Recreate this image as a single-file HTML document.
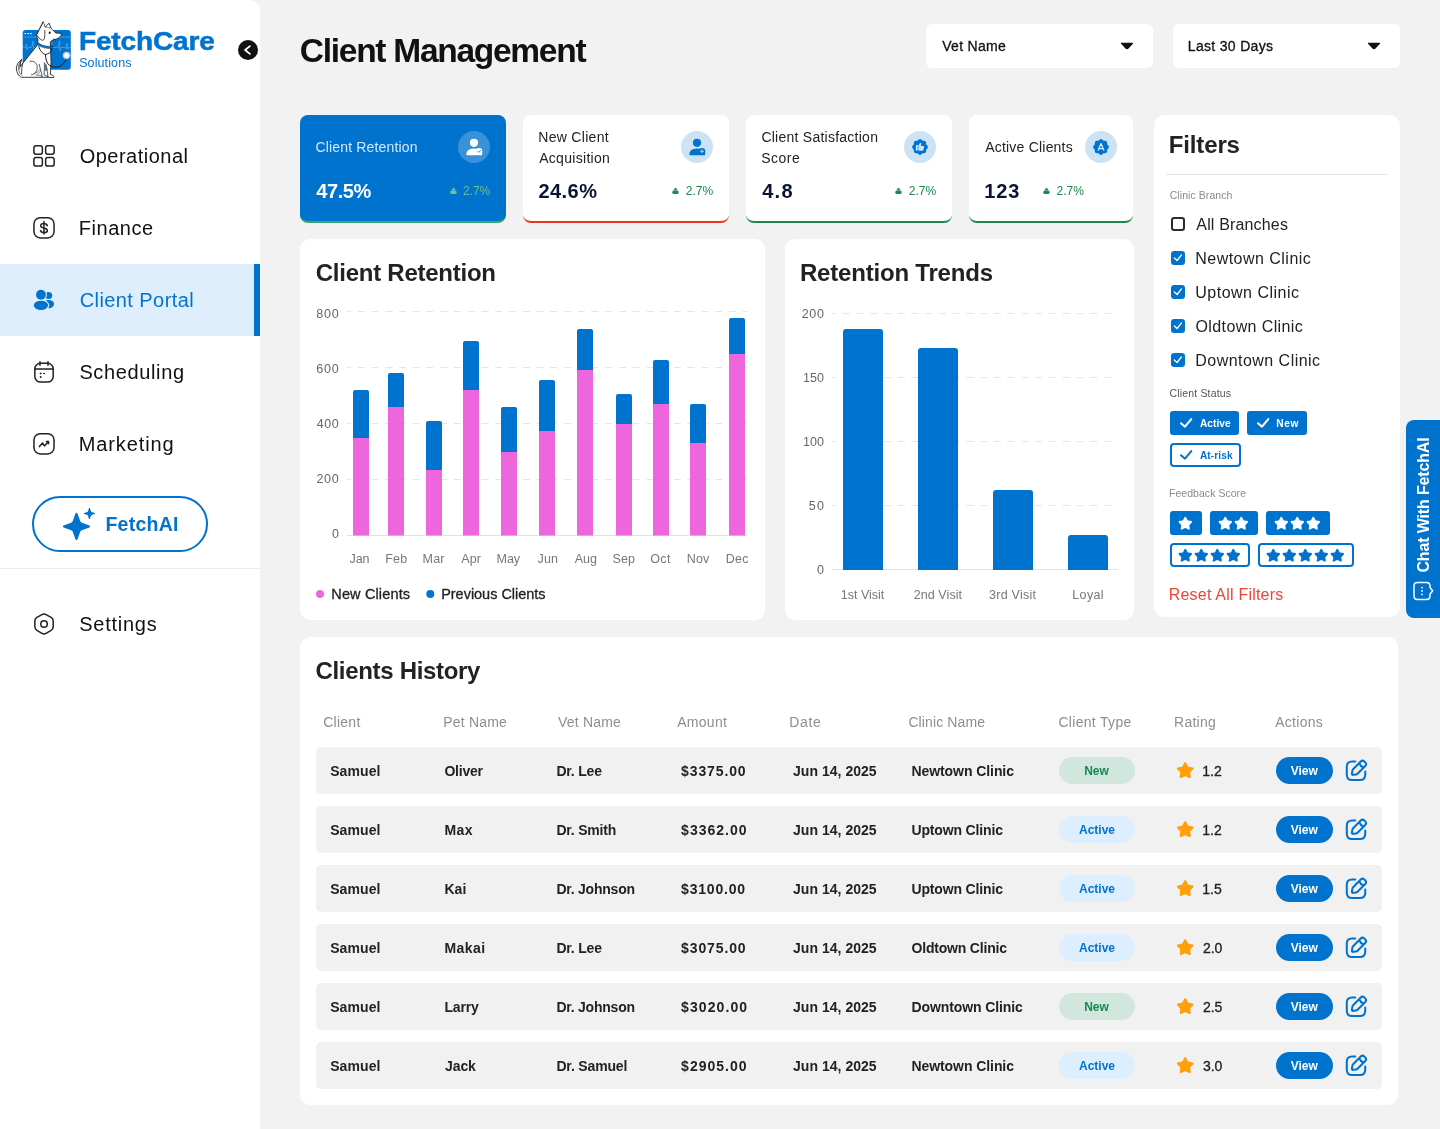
<!DOCTYPE html>
<html><head><meta charset="utf-8"><title>Client Management</title>
<style>
html,body{margin:0;padding:0;overflow:hidden}
body{width:1440px;height:1129px;overflow:hidden;background:#F2F2F2;position:relative;font-family:"Liberation Sans",sans-serif}
#app{position:absolute;left:0;top:0;width:1440px;height:1129px;overflow:hidden;will-change:transform}
.t{position:absolute;white-space:pre;line-height:1;font-family:"Liberation Sans",sans-serif}
</style></head><body><div id="app">
<div style="position:absolute;left:0px;top:0px;width:260px;height:1129px;background:#fff;border-radius:0px;border-top-right-radius:11px;"></div>
<div style="position:absolute;left:0px;top:264px;width:260px;height:72px;background:#DFEEFC;border-radius:0px;"></div>
<div style="position:absolute;left:254px;top:264px;width:6px;height:72px;background:#0073CF;border-radius:0px;"></div>
<div style="position:absolute;left:0px;top:568px;width:260px;height:1px;background:#EEEEEE;border-radius:0px;"></div>
<div style="position:absolute;left:238px;top:40px;width:20px;height:20px;border-radius:50%;background:#111"></div>
<svg style="position:absolute;left:238px;top:40px" width="20" height="20" viewBox="0 0 20 20"><path d="M11.9 6.1 L7.1 10 L11.9 13.9" fill="none" stroke="#fff" stroke-width="1.8" stroke-linecap="round" stroke-linejoin="round"/></svg>
<div style="position:absolute;left:32px;top:496px;width:176px;height:56px;box-sizing:border-box;border:2px solid #0073CF;border-radius:28px;background:#fff"></div>
<div style="position:absolute;left:926px;top:24px;width:227px;height:44px;background:#fff;border-radius:6px;"></div>
<div style="position:absolute;left:1173px;top:24px;width:227px;height:44px;background:#fff;border-radius:6px;"></div>
<svg style="position:absolute;left:1120px;top:42.4px" width="14" height="8" viewBox="0 0 14 8"><path d="M1.5 1.3 H12.5 L8.1 6.0 Q7 7.2 5.9 6.0 Z" fill="#111" stroke="#111" stroke-width="1.2" stroke-linejoin="round"/></svg>
<svg style="position:absolute;left:1367px;top:42.4px" width="14" height="8" viewBox="0 0 14 8"><path d="M1.5 1.3 H12.5 L8.1 6.0 Q7 7.2 5.9 6.0 Z" fill="#111" stroke="#111" stroke-width="1.2" stroke-linejoin="round"/></svg>
<div style="position:absolute;left:300px;top:115px;width:206px;height:108px;box-sizing:border-box;background:#0073CF;border-radius:8px;border-bottom:2px solid #3DA56F"></div>
<svg style="position:absolute;left:449.6px;top:187px" width="8" height="8" viewBox="0 0 8 8"><path d="M3.5 0.8 L5.2 3.1 H1.8 Z" fill="#7CC08F" stroke="#7CC08F" stroke-width="0.5" stroke-linejoin="round"/><rect x="0.3" y="3.5" width="6.3" height="3.4" rx="1.5" fill="#7CC08F"/></svg>
<div style="position:absolute;left:458px;top:131px;width:32px;height:32px;border-radius:50%;background:rgba(255,255,255,0.22)"></div>
<div style="position:absolute;left:523px;top:115px;width:206px;height:108px;box-sizing:border-box;background:#fff;border-radius:8px;border-bottom:2px solid #F0321F"></div>
<svg style="position:absolute;left:672.3px;top:187px" width="8" height="8" viewBox="0 0 8 8"><path d="M3.5 0.8 L5.2 3.1 H1.8 Z" fill="#1A8A4C" stroke="#1A8A4C" stroke-width="0.5" stroke-linejoin="round"/><rect x="0.3" y="3.5" width="6.3" height="3.4" rx="1.5" fill="#1A8A4C"/></svg>
<div style="position:absolute;left:681px;top:131px;width:32px;height:32px;border-radius:50%;background:#CCE3F6"></div>
<div style="position:absolute;left:746px;top:115px;width:206px;height:108px;box-sizing:border-box;background:#fff;border-radius:8px;border-bottom:2px solid #1A8A4C"></div>
<svg style="position:absolute;left:895.3px;top:187px" width="8" height="8" viewBox="0 0 8 8"><path d="M3.5 0.8 L5.2 3.1 H1.8 Z" fill="#1A8A4C" stroke="#1A8A4C" stroke-width="0.5" stroke-linejoin="round"/><rect x="0.3" y="3.5" width="6.3" height="3.4" rx="1.5" fill="#1A8A4C"/></svg>
<div style="position:absolute;left:904px;top:131px;width:32px;height:32px;border-radius:50%;background:#CCE3F6"></div>
<div style="position:absolute;left:969px;top:115px;width:164px;height:108px;box-sizing:border-box;background:#fff;border-radius:8px;border-bottom:2px solid #1A8A4C"></div>
<svg style="position:absolute;left:1043px;top:187px" width="8" height="8" viewBox="0 0 8 8"><path d="M3.5 0.8 L5.2 3.1 H1.8 Z" fill="#1A8A4C" stroke="#1A8A4C" stroke-width="0.5" stroke-linejoin="round"/><rect x="0.3" y="3.5" width="6.3" height="3.4" rx="1.5" fill="#1A8A4C"/></svg>
<div style="position:absolute;left:1085px;top:131px;width:32px;height:32px;border-radius:50%;background:#CCE3F6"></div>
<svg style="position:absolute;left:464px;top:136.9px" width="20" height="20" viewBox="0 0 20 20"><circle cx="10" cy="5.8" r="4.1" fill="#fff"/><path d="M2.3 17.4 Q2.5 11.4 9.8 11.4 Q12.2 11.4 13.8 12 L18.2 15 V17.6 Q18.2 18.2 17.6 18.2 H3 Q2.3 18.2 2.3 17.4Z" fill="#fff"/><circle cx="15" cy="14.3" r="3.3" fill="#fff"/><path d="M13.6 14.3 L14.7 15.4 L16.5 13.3" fill="none" stroke="#4A9BDE" stroke-width="1" stroke-linecap="round" stroke-linejoin="round"/></svg>
<svg style="position:absolute;left:687px;top:136.9px" width="20" height="20" viewBox="0 0 20 20"><circle cx="10" cy="5.8" r="4.1" fill="#0073CF"/><path d="M2.3 17.4 Q2.5 11.4 9.8 11.4 Q12.2 11.4 13.8 12 L18.2 15 V17.6 Q18.2 18.2 17.6 18.2 H3 Q2.3 18.2 2.3 17.4Z" fill="#0073CF"/><circle cx="15" cy="14.3" r="3.3" fill="#0073CF"/><path d="M15 12.9 V15.7 M13.6 14.3 H16.4" fill="none" stroke="#B9D9F3" stroke-width="1" stroke-linecap="round"/></svg>
<svg style="position:absolute;left:910px;top:136.9px" width="20" height="20" viewBox="0 0 20 20"><rect x="3.85" y="3.85" width="12.3" height="12.3" rx="2" fill="#0073CF"/><rect x="3.85" y="3.85" width="12.3" height="12.3" rx="2" fill="#0073CF" transform="rotate(45 10 10)"/><rect x="5.9" y="7.9" width="1.9" height="5.7" rx="0.3" fill="#CCE3F6"/><path d="M8.4 8.3 L10.1 6.1 Q10.5 5.6 11 6 Q11.4 6.4 11.2 7.2 L11 8.9 H13.4 Q14.3 8.9 14.1 9.9 L13.4 13 Q13.2 13.8 12.3 13.8 H9.4 L8.4 13.2 Z" fill="#CCE3F6"/></svg>
<svg style="position:absolute;left:1091px;top:136.9px" width="20" height="20" viewBox="0 0 20 20"><rect x="3.85" y="3.85" width="12.3" height="12.3" rx="2" fill="#0073CF"/><rect x="3.85" y="3.85" width="12.3" height="12.3" rx="2" fill="#0073CF" transform="rotate(45 10 10)"/><path d="M7.15 13.2 L10 6.5 L12.85 13.2 M8.1 11.7 H11.9" fill="none" stroke="#E3F0FA" stroke-width="1.2" stroke-linecap="round" stroke-linejoin="round"/></svg>
<div style="position:absolute;left:300px;top:239px;width:465px;height:381px;background:#fff;border-radius:10px;"></div>
<div style="position:absolute;left:785px;top:239px;width:349px;height:381px;background:#fff;border-radius:10px;"></div>
<svg style="position:absolute;left:0;top:0" width="1440" height="1129" viewBox="0 0 1440 1129"><line x1="347" x2="747" y1="311.5" y2="311.5" stroke="#E6E6E6" stroke-width="1" stroke-dasharray="7 6.75" stroke-dashoffset="3"/><line x1="347" x2="747" y1="367.5" y2="367.5" stroke="#E6E6E6" stroke-width="1" stroke-dasharray="7 6.75" stroke-dashoffset="3"/><line x1="347" x2="747" y1="423.5" y2="423.5" stroke="#E6E6E6" stroke-width="1" stroke-dasharray="7 6.75" stroke-dashoffset="3"/><line x1="347" x2="747" y1="479.5" y2="479.5" stroke="#E6E6E6" stroke-width="1" stroke-dasharray="7 6.75" stroke-dashoffset="3"/><line x1="347" x2="747" y1="535.5" y2="535.5" stroke="#E2E2E2" stroke-width="1"/><path d="M353 439 V392 Q353 390 355 390 H367 Q369 390 369 392 V439Z" fill="#0073CF"/><rect x="353" y="438" width="16" height="97.5" fill="#EE66DD"/><path d="M388 408 V375 Q388 373 390 373 H402 Q404 373 404 375 V408Z" fill="#0073CF"/><rect x="388" y="407" width="16" height="128.5" fill="#EE66DD"/><path d="M426 471 V423 Q426 421 428 421 H440 Q442 421 442 423 V471Z" fill="#0073CF"/><rect x="426" y="470" width="16" height="65.5" fill="#EE66DD"/><path d="M463 391 V343 Q463 341 465 341 H477 Q479 341 479 343 V391Z" fill="#0073CF"/><rect x="463" y="390" width="16" height="145.5" fill="#EE66DD"/><path d="M501 453 V409 Q501 407 503 407 H515 Q517 407 517 409 V453Z" fill="#0073CF"/><rect x="501" y="452" width="16" height="83.5" fill="#EE66DD"/><path d="M539 432 V382 Q539 380 541 380 H553 Q555 380 555 382 V432Z" fill="#0073CF"/><rect x="539" y="431" width="16" height="104.5" fill="#EE66DD"/><path d="M577 371 V331 Q577 329 579 329 H591 Q593 329 593 331 V371Z" fill="#0073CF"/><rect x="577" y="370" width="16" height="165.5" fill="#EE66DD"/><path d="M616 425 V396 Q616 394 618 394 H630 Q632 394 632 396 V425Z" fill="#0073CF"/><rect x="616" y="424" width="16" height="111.5" fill="#EE66DD"/><path d="M653 405 V362 Q653 360 655 360 H667 Q669 360 669 362 V405Z" fill="#0073CF"/><rect x="653" y="404" width="16" height="131.5" fill="#EE66DD"/><path d="M690 444 V406 Q690 404 692 404 H704 Q706 404 706 406 V444Z" fill="#0073CF"/><rect x="690" y="443" width="16" height="92.5" fill="#EE66DD"/><path d="M729 355 V320 Q729 318 731 318 H743 Q745 318 745 320 V355Z" fill="#0073CF"/><rect x="729" y="354" width="16" height="181.5" fill="#EE66DD"/><line x1="832" x2="1118" y1="313.5" y2="313.5" stroke="#E6E6E6" stroke-width="1" stroke-dasharray="7 6.75" stroke-dashoffset="3"/><line x1="832" x2="1118" y1="377.5" y2="377.5" stroke="#E6E6E6" stroke-width="1" stroke-dasharray="7 6.75" stroke-dashoffset="3"/><line x1="832" x2="1118" y1="441.5" y2="441.5" stroke="#E6E6E6" stroke-width="1" stroke-dasharray="7 6.75" stroke-dashoffset="3"/><line x1="832" x2="1118" y1="505.5" y2="505.5" stroke="#E6E6E6" stroke-width="1" stroke-dasharray="7 6.75" stroke-dashoffset="3"/><line x1="832" x2="1118" y1="569.5" y2="569.5" stroke="#E2E2E2" stroke-width="1"/><path d="M843 570 V332 Q843 329 846 329 H880 Q883 329 883 332 V570Z" fill="#0073CF"/><path d="M918 570 V351 Q918 348 921 348 H955 Q958 348 958 351 V570Z" fill="#0073CF"/><path d="M993 570 V493 Q993 490 996 490 H1030 Q1033 490 1033 493 V570Z" fill="#0073CF"/><path d="M1068 570 V538 Q1068 535 1071 535 H1105 Q1108 535 1108 538 V570Z" fill="#0073CF"/><circle cx="320" cy="594" r="4" fill="#EE66DD"/><circle cx="430.3" cy="594" r="4" fill="#0073CF"/></svg>
<div style="position:absolute;left:1154px;top:115px;width:246px;height:502px;background:#fff;border-radius:10px;"></div>
<div style="position:absolute;left:1166px;top:174px;width:222px;height:1px;background:#E6E6E6;border-radius:0px;"></div>
<div style="position:absolute;left:1171.3px;top:217.05px;width:13.6px;height:13.6px;box-sizing:border-box;border:2px solid #2b2b2b;border-radius:3.2px"></div>
<div style="position:absolute;left:1171.3px;top:251.05px;width:13.6px;height:13.6px;border-radius:3.2px;background:#0073CF"></div>
<svg style="position:absolute;left:1171.3px;top:251.05px" width="13.6" height="13.6" viewBox="0 0 13.6 13.6"><path d="M3.3 7.0 L6.1 9.5 L10.5 3.9" fill="none" stroke="#fff" stroke-width="1.3" stroke-linecap="round" stroke-linejoin="round"/></svg>
<div style="position:absolute;left:1171.3px;top:285.05px;width:13.6px;height:13.6px;border-radius:3.2px;background:#0073CF"></div>
<svg style="position:absolute;left:1171.3px;top:285.05px" width="13.6" height="13.6" viewBox="0 0 13.6 13.6"><path d="M3.3 7.0 L6.1 9.5 L10.5 3.9" fill="none" stroke="#fff" stroke-width="1.3" stroke-linecap="round" stroke-linejoin="round"/></svg>
<div style="position:absolute;left:1171.3px;top:319.05px;width:13.6px;height:13.6px;border-radius:3.2px;background:#0073CF"></div>
<svg style="position:absolute;left:1171.3px;top:319.05px" width="13.6" height="13.6" viewBox="0 0 13.6 13.6"><path d="M3.3 7.0 L6.1 9.5 L10.5 3.9" fill="none" stroke="#fff" stroke-width="1.3" stroke-linecap="round" stroke-linejoin="round"/></svg>
<div style="position:absolute;left:1171.3px;top:353.05px;width:13.6px;height:13.6px;border-radius:3.2px;background:#0073CF"></div>
<svg style="position:absolute;left:1171.3px;top:353.05px" width="13.6" height="13.6" viewBox="0 0 13.6 13.6"><path d="M3.3 7.0 L6.1 9.5 L10.5 3.9" fill="none" stroke="#fff" stroke-width="1.3" stroke-linecap="round" stroke-linejoin="round"/></svg>
<div style="position:absolute;left:1170px;top:411px;width:69px;height:24px;background:#0073CF;border-radius:3px;"></div>
<svg style="position:absolute;left:1179px;top:417px" width="14" height="12" viewBox="0 0 14 12"><path d="M2 6.2 L6 9.7 L12.3 2.1" fill="none" stroke="#fff" stroke-width="2" stroke-linecap="round" stroke-linejoin="round"/></svg>
<div style="position:absolute;left:1247px;top:411px;width:60px;height:24px;background:#0073CF;border-radius:3px;"></div>
<svg style="position:absolute;left:1256.3px;top:417px" width="14" height="12" viewBox="0 0 14 12"><path d="M2 6.2 L6 9.7 L12.3 2.1" fill="none" stroke="#fff" stroke-width="2" stroke-linecap="round" stroke-linejoin="round"/></svg>
<div style="position:absolute;left:1170px;top:443px;width:71px;height:24px;box-sizing:border-box;border:2px solid #0073CF;border-radius:4px;background:#fff"></div>
<svg style="position:absolute;left:1179px;top:449.3px" width="14" height="12" viewBox="0 0 14 12"><path d="M2 6.2 L6 9.7 L12.3 2.1" fill="none" stroke="#0073CF" stroke-width="2" stroke-linecap="round" stroke-linejoin="round"/></svg>
<div style="position:absolute;left:1170px;top:511px;width:32px;height:24px;background:#0073CF;border-radius:3px;"></div>
<svg style="position:absolute;left:1177.2px;top:514.5px" width="16.6" height="16.6" viewBox="0 0 20 20"><path d="M10.00 3.10 L12.35 7.36 L17.13 8.28 L13.80 11.84 L14.41 16.67 L10.00 14.60 L5.59 16.67 L6.20 11.84 L2.87 8.28 L7.65 7.36Z" fill="#fff" stroke="#fff" stroke-width="2" stroke-linejoin="round"/></svg>
<div style="position:absolute;left:1210px;top:511px;width:48px;height:24px;background:#0073CF;border-radius:3px;"></div>
<svg style="position:absolute;left:1217.2px;top:514.5px" width="16.6" height="16.6" viewBox="0 0 20 20"><path d="M10.00 3.10 L12.35 7.36 L17.13 8.28 L13.80 11.84 L14.41 16.67 L10.00 14.60 L5.59 16.67 L6.20 11.84 L2.87 8.28 L7.65 7.36Z" fill="#fff" stroke="#fff" stroke-width="2" stroke-linejoin="round"/></svg>
<svg style="position:absolute;left:1233.2px;top:514.5px" width="16.6" height="16.6" viewBox="0 0 20 20"><path d="M10.00 3.10 L12.35 7.36 L17.13 8.28 L13.80 11.84 L14.41 16.67 L10.00 14.60 L5.59 16.67 L6.20 11.84 L2.87 8.28 L7.65 7.36Z" fill="#fff" stroke="#fff" stroke-width="2" stroke-linejoin="round"/></svg>
<div style="position:absolute;left:1266px;top:511px;width:64px;height:24px;background:#0073CF;border-radius:3px;"></div>
<svg style="position:absolute;left:1273.2px;top:514.5px" width="16.6" height="16.6" viewBox="0 0 20 20"><path d="M10.00 3.10 L12.35 7.36 L17.13 8.28 L13.80 11.84 L14.41 16.67 L10.00 14.60 L5.59 16.67 L6.20 11.84 L2.87 8.28 L7.65 7.36Z" fill="#fff" stroke="#fff" stroke-width="2" stroke-linejoin="round"/></svg>
<svg style="position:absolute;left:1289.2px;top:514.5px" width="16.6" height="16.6" viewBox="0 0 20 20"><path d="M10.00 3.10 L12.35 7.36 L17.13 8.28 L13.80 11.84 L14.41 16.67 L10.00 14.60 L5.59 16.67 L6.20 11.84 L2.87 8.28 L7.65 7.36Z" fill="#fff" stroke="#fff" stroke-width="2" stroke-linejoin="round"/></svg>
<svg style="position:absolute;left:1305.2px;top:514.5px" width="16.6" height="16.6" viewBox="0 0 20 20"><path d="M10.00 3.10 L12.35 7.36 L17.13 8.28 L13.80 11.84 L14.41 16.67 L10.00 14.60 L5.59 16.67 L6.20 11.84 L2.87 8.28 L7.65 7.36Z" fill="#fff" stroke="#fff" stroke-width="2" stroke-linejoin="round"/></svg>
<div style="position:absolute;left:1170px;top:543px;width:80px;height:24px;box-sizing:border-box;border:2px solid #0073CF;border-radius:4px;background:#fff"></div>
<svg style="position:absolute;left:1177.2px;top:546.5px" width="16.6" height="16.6" viewBox="0 0 20 20"><path d="M10.00 3.10 L12.35 7.36 L17.13 8.28 L13.80 11.84 L14.41 16.67 L10.00 14.60 L5.59 16.67 L6.20 11.84 L2.87 8.28 L7.65 7.36Z" fill="#0073CF" stroke="#0073CF" stroke-width="2" stroke-linejoin="round"/></svg>
<svg style="position:absolute;left:1193.2px;top:546.5px" width="16.6" height="16.6" viewBox="0 0 20 20"><path d="M10.00 3.10 L12.35 7.36 L17.13 8.28 L13.80 11.84 L14.41 16.67 L10.00 14.60 L5.59 16.67 L6.20 11.84 L2.87 8.28 L7.65 7.36Z" fill="#0073CF" stroke="#0073CF" stroke-width="2" stroke-linejoin="round"/></svg>
<svg style="position:absolute;left:1209.2px;top:546.5px" width="16.6" height="16.6" viewBox="0 0 20 20"><path d="M10.00 3.10 L12.35 7.36 L17.13 8.28 L13.80 11.84 L14.41 16.67 L10.00 14.60 L5.59 16.67 L6.20 11.84 L2.87 8.28 L7.65 7.36Z" fill="#0073CF" stroke="#0073CF" stroke-width="2" stroke-linejoin="round"/></svg>
<svg style="position:absolute;left:1225.2px;top:546.5px" width="16.6" height="16.6" viewBox="0 0 20 20"><path d="M10.00 3.10 L12.35 7.36 L17.13 8.28 L13.80 11.84 L14.41 16.67 L10.00 14.60 L5.59 16.67 L6.20 11.84 L2.87 8.28 L7.65 7.36Z" fill="#0073CF" stroke="#0073CF" stroke-width="2" stroke-linejoin="round"/></svg>
<div style="position:absolute;left:1258px;top:543px;width:96px;height:24px;box-sizing:border-box;border:2px solid #0073CF;border-radius:4px;background:#fff"></div>
<svg style="position:absolute;left:1265.2px;top:546.5px" width="16.6" height="16.6" viewBox="0 0 20 20"><path d="M10.00 3.10 L12.35 7.36 L17.13 8.28 L13.80 11.84 L14.41 16.67 L10.00 14.60 L5.59 16.67 L6.20 11.84 L2.87 8.28 L7.65 7.36Z" fill="#0073CF" stroke="#0073CF" stroke-width="2" stroke-linejoin="round"/></svg>
<svg style="position:absolute;left:1281.2px;top:546.5px" width="16.6" height="16.6" viewBox="0 0 20 20"><path d="M10.00 3.10 L12.35 7.36 L17.13 8.28 L13.80 11.84 L14.41 16.67 L10.00 14.60 L5.59 16.67 L6.20 11.84 L2.87 8.28 L7.65 7.36Z" fill="#0073CF" stroke="#0073CF" stroke-width="2" stroke-linejoin="round"/></svg>
<svg style="position:absolute;left:1297.2px;top:546.5px" width="16.6" height="16.6" viewBox="0 0 20 20"><path d="M10.00 3.10 L12.35 7.36 L17.13 8.28 L13.80 11.84 L14.41 16.67 L10.00 14.60 L5.59 16.67 L6.20 11.84 L2.87 8.28 L7.65 7.36Z" fill="#0073CF" stroke="#0073CF" stroke-width="2" stroke-linejoin="round"/></svg>
<svg style="position:absolute;left:1313.2px;top:546.5px" width="16.6" height="16.6" viewBox="0 0 20 20"><path d="M10.00 3.10 L12.35 7.36 L17.13 8.28 L13.80 11.84 L14.41 16.67 L10.00 14.60 L5.59 16.67 L6.20 11.84 L2.87 8.28 L7.65 7.36Z" fill="#0073CF" stroke="#0073CF" stroke-width="2" stroke-linejoin="round"/></svg>
<svg style="position:absolute;left:1329.2px;top:546.5px" width="16.6" height="16.6" viewBox="0 0 20 20"><path d="M10.00 3.10 L12.35 7.36 L17.13 8.28 L13.80 11.84 L14.41 16.67 L10.00 14.60 L5.59 16.67 L6.20 11.84 L2.87 8.28 L7.65 7.36Z" fill="#0073CF" stroke="#0073CF" stroke-width="2" stroke-linejoin="round"/></svg>
<div style="position:absolute;left:1406px;top:420px;width:34px;height:198px;background:#0073CF;border-radius:8px 0 0 8px"></div>
<div style="position:absolute;left:1406px;top:420px;width:34px;height:198px;"><div style="position:absolute;left:18.2px;top:84.5px;transform:translate(-50%,-50%) rotate(-90deg);white-space:nowrap;font:700 16px 'Liberation Sans',sans-serif;color:#fff;letter-spacing:-0.15px">Chat With FetchAI</div></div>
<svg style="position:absolute;left:1412px;top:580px" width="22" height="22" viewBox="0 0 22 22"><path d="M5.5 2.5 H14.5 Q18 2.5 18 6 V7.6 L20.4 10.4 Q20.7 10.8 20.4 11.2 L18 14 V16 Q18 19.5 14.5 19.5 H5.5 Q2 19.5 2 16 V6 Q2 2.5 5.5 2.5Z" fill="none" stroke="#fff" stroke-width="1.5" stroke-linejoin="round"/><circle cx="10" cy="7.6" r="0.9" fill="#fff"/><circle cx="10" cy="11" r="0.9" fill="#fff"/><circle cx="10" cy="14.4" r="0.9" fill="#fff"/></svg>
<div style="position:absolute;left:300px;top:637px;width:1098px;height:468px;background:#fff;border-radius:10px;"></div>
<div style="position:absolute;left:316px;top:747px;width:1066px;height:47px;background:#F1F1F1;border-radius:5px;"></div>
<div style="position:absolute;left:1059px;top:757px;width:76px;height:27px;background:#D1E7DD;border-radius:13.5px;"></div>
<svg style="position:absolute;left:1174.7px;top:760.4px" width="20.5" height="20.5" viewBox="0 0 20 20"><path d="M10.00 3.10 L12.35 7.36 L17.13 8.28 L13.80 11.84 L14.41 16.67 L10.00 14.60 L5.59 16.67 L6.20 11.84 L2.87 8.28 L7.65 7.36Z" fill="#FF9F0A" stroke="#FF9F0A" stroke-width="2" stroke-linejoin="round"/></svg>
<div style="position:absolute;left:1276px;top:757px;width:57px;height:27px;background:#0073CF;border-radius:13.5px;"></div>
<svg style="position:absolute;left:1344.2px;top:757.7px" width="24.7" height="24.7" viewBox="0 0 23 23"><path d="M10.5 3.2 H7.5 Q2.6 3.2 2.6 8.2 V15.5 Q2.6 20.4 7.5 20.4 H14.8 Q19.8 20.4 19.8 15.5 V12.5" fill="none" stroke="#0073CF" stroke-width="1.9" stroke-linecap="round"/><path d="M15.6 3.2 Q17.2 1.6 18.9 3.2 L19.8 4.1 Q21.4 5.8 19.8 7.4 L12.6 14.6 Q12 15.2 11.2 15.3 L8.6 15.7 Q7.2 15.9 7.4 14.5 L7.8 11.8 Q7.9 11 8.5 10.4 Z M14.2 4.8 Q15.2 7.8 18.2 8.8" fill="none" stroke="#0073CF" stroke-width="1.9" stroke-linejoin="round" stroke-linecap="round"/></svg>
<div style="position:absolute;left:316px;top:806px;width:1066px;height:47px;background:#F1F1F1;border-radius:5px;"></div>
<div style="position:absolute;left:1059px;top:816px;width:76px;height:27px;background:#DDEEFF;border-radius:13.5px;"></div>
<svg style="position:absolute;left:1174.7px;top:819.4px" width="20.5" height="20.5" viewBox="0 0 20 20"><path d="M10.00 3.10 L12.35 7.36 L17.13 8.28 L13.80 11.84 L14.41 16.67 L10.00 14.60 L5.59 16.67 L6.20 11.84 L2.87 8.28 L7.65 7.36Z" fill="#FF9F0A" stroke="#FF9F0A" stroke-width="2" stroke-linejoin="round"/></svg>
<div style="position:absolute;left:1276px;top:816px;width:57px;height:27px;background:#0073CF;border-radius:13.5px;"></div>
<svg style="position:absolute;left:1344.2px;top:816.7px" width="24.7" height="24.7" viewBox="0 0 23 23"><path d="M10.5 3.2 H7.5 Q2.6 3.2 2.6 8.2 V15.5 Q2.6 20.4 7.5 20.4 H14.8 Q19.8 20.4 19.8 15.5 V12.5" fill="none" stroke="#0073CF" stroke-width="1.9" stroke-linecap="round"/><path d="M15.6 3.2 Q17.2 1.6 18.9 3.2 L19.8 4.1 Q21.4 5.8 19.8 7.4 L12.6 14.6 Q12 15.2 11.2 15.3 L8.6 15.7 Q7.2 15.9 7.4 14.5 L7.8 11.8 Q7.9 11 8.5 10.4 Z M14.2 4.8 Q15.2 7.8 18.2 8.8" fill="none" stroke="#0073CF" stroke-width="1.9" stroke-linejoin="round" stroke-linecap="round"/></svg>
<div style="position:absolute;left:316px;top:865px;width:1066px;height:47px;background:#F1F1F1;border-radius:5px;"></div>
<div style="position:absolute;left:1059px;top:875px;width:76px;height:27px;background:#DDEEFF;border-radius:13.5px;"></div>
<svg style="position:absolute;left:1174.7px;top:878.4px" width="20.5" height="20.5" viewBox="0 0 20 20"><path d="M10.00 3.10 L12.35 7.36 L17.13 8.28 L13.80 11.84 L14.41 16.67 L10.00 14.60 L5.59 16.67 L6.20 11.84 L2.87 8.28 L7.65 7.36Z" fill="#FF9F0A" stroke="#FF9F0A" stroke-width="2" stroke-linejoin="round"/></svg>
<div style="position:absolute;left:1276px;top:875px;width:57px;height:27px;background:#0073CF;border-radius:13.5px;"></div>
<svg style="position:absolute;left:1344.2px;top:875.7px" width="24.7" height="24.7" viewBox="0 0 23 23"><path d="M10.5 3.2 H7.5 Q2.6 3.2 2.6 8.2 V15.5 Q2.6 20.4 7.5 20.4 H14.8 Q19.8 20.4 19.8 15.5 V12.5" fill="none" stroke="#0073CF" stroke-width="1.9" stroke-linecap="round"/><path d="M15.6 3.2 Q17.2 1.6 18.9 3.2 L19.8 4.1 Q21.4 5.8 19.8 7.4 L12.6 14.6 Q12 15.2 11.2 15.3 L8.6 15.7 Q7.2 15.9 7.4 14.5 L7.8 11.8 Q7.9 11 8.5 10.4 Z M14.2 4.8 Q15.2 7.8 18.2 8.8" fill="none" stroke="#0073CF" stroke-width="1.9" stroke-linejoin="round" stroke-linecap="round"/></svg>
<div style="position:absolute;left:316px;top:924px;width:1066px;height:47px;background:#F1F1F1;border-radius:5px;"></div>
<div style="position:absolute;left:1059px;top:934px;width:76px;height:27px;background:#DDEEFF;border-radius:13.5px;"></div>
<svg style="position:absolute;left:1174.7px;top:937.4px" width="20.5" height="20.5" viewBox="0 0 20 20"><path d="M10.00 3.10 L12.35 7.36 L17.13 8.28 L13.80 11.84 L14.41 16.67 L10.00 14.60 L5.59 16.67 L6.20 11.84 L2.87 8.28 L7.65 7.36Z" fill="#FF9F0A" stroke="#FF9F0A" stroke-width="2" stroke-linejoin="round"/></svg>
<div style="position:absolute;left:1276px;top:934px;width:57px;height:27px;background:#0073CF;border-radius:13.5px;"></div>
<svg style="position:absolute;left:1344.2px;top:934.7px" width="24.7" height="24.7" viewBox="0 0 23 23"><path d="M10.5 3.2 H7.5 Q2.6 3.2 2.6 8.2 V15.5 Q2.6 20.4 7.5 20.4 H14.8 Q19.8 20.4 19.8 15.5 V12.5" fill="none" stroke="#0073CF" stroke-width="1.9" stroke-linecap="round"/><path d="M15.6 3.2 Q17.2 1.6 18.9 3.2 L19.8 4.1 Q21.4 5.8 19.8 7.4 L12.6 14.6 Q12 15.2 11.2 15.3 L8.6 15.7 Q7.2 15.9 7.4 14.5 L7.8 11.8 Q7.9 11 8.5 10.4 Z M14.2 4.8 Q15.2 7.8 18.2 8.8" fill="none" stroke="#0073CF" stroke-width="1.9" stroke-linejoin="round" stroke-linecap="round"/></svg>
<div style="position:absolute;left:316px;top:983px;width:1066px;height:47px;background:#F1F1F1;border-radius:5px;"></div>
<div style="position:absolute;left:1059px;top:993px;width:76px;height:27px;background:#D1E7DD;border-radius:13.5px;"></div>
<svg style="position:absolute;left:1174.7px;top:996.4px" width="20.5" height="20.5" viewBox="0 0 20 20"><path d="M10.00 3.10 L12.35 7.36 L17.13 8.28 L13.80 11.84 L14.41 16.67 L10.00 14.60 L5.59 16.67 L6.20 11.84 L2.87 8.28 L7.65 7.36Z" fill="#FF9F0A" stroke="#FF9F0A" stroke-width="2" stroke-linejoin="round"/></svg>
<div style="position:absolute;left:1276px;top:993px;width:57px;height:27px;background:#0073CF;border-radius:13.5px;"></div>
<svg style="position:absolute;left:1344.2px;top:993.7px" width="24.7" height="24.7" viewBox="0 0 23 23"><path d="M10.5 3.2 H7.5 Q2.6 3.2 2.6 8.2 V15.5 Q2.6 20.4 7.5 20.4 H14.8 Q19.8 20.4 19.8 15.5 V12.5" fill="none" stroke="#0073CF" stroke-width="1.9" stroke-linecap="round"/><path d="M15.6 3.2 Q17.2 1.6 18.9 3.2 L19.8 4.1 Q21.4 5.8 19.8 7.4 L12.6 14.6 Q12 15.2 11.2 15.3 L8.6 15.7 Q7.2 15.9 7.4 14.5 L7.8 11.8 Q7.9 11 8.5 10.4 Z M14.2 4.8 Q15.2 7.8 18.2 8.8" fill="none" stroke="#0073CF" stroke-width="1.9" stroke-linejoin="round" stroke-linecap="round"/></svg>
<div style="position:absolute;left:316px;top:1042px;width:1066px;height:47px;background:#F1F1F1;border-radius:5px;"></div>
<div style="position:absolute;left:1059px;top:1052px;width:76px;height:27px;background:#DDEEFF;border-radius:13.5px;"></div>
<svg style="position:absolute;left:1174.7px;top:1055.4px" width="20.5" height="20.5" viewBox="0 0 20 20"><path d="M10.00 3.10 L12.35 7.36 L17.13 8.28 L13.80 11.84 L14.41 16.67 L10.00 14.60 L5.59 16.67 L6.20 11.84 L2.87 8.28 L7.65 7.36Z" fill="#FF9F0A" stroke="#FF9F0A" stroke-width="2" stroke-linejoin="round"/></svg>
<div style="position:absolute;left:1276px;top:1052px;width:57px;height:27px;background:#0073CF;border-radius:13.5px;"></div>
<svg style="position:absolute;left:1344.2px;top:1052.7px" width="24.7" height="24.7" viewBox="0 0 23 23"><path d="M10.5 3.2 H7.5 Q2.6 3.2 2.6 8.2 V15.5 Q2.6 20.4 7.5 20.4 H14.8 Q19.8 20.4 19.8 15.5 V12.5" fill="none" stroke="#0073CF" stroke-width="1.9" stroke-linecap="round"/><path d="M15.6 3.2 Q17.2 1.6 18.9 3.2 L19.8 4.1 Q21.4 5.8 19.8 7.4 L12.6 14.6 Q12 15.2 11.2 15.3 L8.6 15.7 Q7.2 15.9 7.4 14.5 L7.8 11.8 Q7.9 11 8.5 10.4 Z M14.2 4.8 Q15.2 7.8 18.2 8.8" fill="none" stroke="#0073CF" stroke-width="1.9" stroke-linejoin="round" stroke-linecap="round"/></svg>
<svg style="position:absolute;left:32px;top:144px" width="24" height="24" viewBox="0 0 24 24" fill="none" stroke="#222" stroke-width="1.5"><rect x="1.9" y="1.8" width="8.5" height="8.5" rx="2.2"/><rect x="13.65" y="1.8" width="8.5" height="8.5" rx="2.2"/><rect x="1.9" y="13.6" width="8.5" height="8.5" rx="2.2"/><rect x="13.65" y="13.6" width="8.5" height="8.5" rx="2.2"/></svg>
<svg style="position:absolute;left:32px;top:216px" width="24" height="24" viewBox="0 0 24 24" fill="none" stroke="#222" stroke-width="1.5" stroke-linecap="round"><rect x="1.95" y="1.7" width="20.1" height="20.2" rx="6.3"/><path d="M11.93 5.6 V18.1 M15.3 9.7 Q14.7 7.5 11.9 7.5 Q8.7 7.5 8.7 9.7 Q8.7 11.4 11.9 12 Q15.4 12.7 15.4 14.5 Q15.4 16.6 11.9 16.6 Q9.2 16.6 8.5 14.4"/></svg>
<svg style="position:absolute;left:32px;top:288px" width="24" height="24" viewBox="0 0 24 24" fill="#0073CF"><circle cx="16.6" cy="7.5" r="3.6"/><ellipse cx="16.7" cy="16.1" rx="5.4" ry="4.1"/><circle cx="8.95" cy="6.7" r="6.0" fill="#DFEEFC"/><ellipse cx="8.95" cy="17.35" rx="8.3" ry="5.9" fill="#DFEEFC"/><circle cx="8.95" cy="6.7" r="4.9"/><ellipse cx="8.95" cy="17.35" rx="7.1" ry="4.7"/></svg>
<svg style="position:absolute;left:32px;top:360px" width="24" height="24" viewBox="0 0 24 24" fill="none" stroke="#222" stroke-width="1.5" stroke-linecap="round"><rect x="2.85" y="3.35" width="18.35" height="18.75" rx="5.6"/><path d="M7.96 1.65 V5.25 M16 1.65 V5.25 M3 9 H21"/><circle cx="8.5" cy="13.45" r="0.5" fill="#222" stroke-width="1"/><circle cx="12" cy="13.45" r="0.5" fill="#222" stroke-width="1"/><circle cx="8.5" cy="17" r="0.5" fill="#222" stroke-width="1"/></svg>
<svg style="position:absolute;left:32px;top:432px" width="24" height="24" viewBox="0 0 24 24" fill="none" stroke="#222" stroke-width="1.5" stroke-linecap="round" stroke-linejoin="round"><rect x="1.95" y="1.7" width="20.1" height="20.2" rx="6.3"/><path d="M7.4 14.6 L10.5 11 L12.4 13.9 L16.2 10"/><path d="M14.3 9.4 H16.7 V11.8 Z" fill="#222" stroke-width="1.2"/></svg>
<svg style="position:absolute;left:32px;top:612px" width="24" height="24" viewBox="0 0 24 24" fill="none" stroke="#222" stroke-width="1.5" stroke-linejoin="round"><path d="M9.92 2.55 Q12.00 1.35 14.08 2.55 L19.12 5.45 Q21.20 6.65 21.20 9.05 L21.20 14.85 Q21.20 17.25 19.12 18.45 L14.08 21.35 Q12.00 22.55 9.92 21.35 L4.93 18.45 Q2.85 17.25 2.85 14.85 L2.85 9.05 Q2.85 6.65 4.93 5.45 Z"/><circle cx="12.04" cy="11.95" r="3.25"/></svg>
<svg style="position:absolute;left:60px;top:506px" width="38" height="38" viewBox="0 0 38 38" fill="#0073CF" stroke="#0073CF" stroke-linejoin="round"><path d="M16.48 7.98 L19.18 15.48 Q19.78 17.18 21.48 17.78 L28.98 20.48 L21.48 23.18 Q19.78 23.78 19.18 25.48 L16.48 32.980000000000004 L13.780000000000001 25.48 Q13.18 23.78 11.48 23.18 L3.9800000000000004 20.48 L11.48 17.78 Q13.18 17.18 13.780000000000001 15.48 Z" stroke-width="2.2"/><path d="M29.45 2.5 L30.45 5.6 Q30.75 6.2 31.349999999999998 6.5 L34.45 7.5 L31.349999999999998 8.5 Q30.75 8.8 30.45 9.4 L29.45 12.5 L28.45 9.4 Q28.15 8.8 27.55 8.5 L24.45 7.5 L27.55 6.5 Q28.15 6.2 28.45 5.6 Z" stroke-width="1.1"/></svg>
<svg style="position:absolute;left:12px;top:18px" width="64" height="64" viewBox="0 0 64 64" fill="none" stroke-linecap="round" stroke-linejoin="round">
<rect x="10.7" y="11.9" width="48.1" height="39.8" rx="3" fill="#0073CF"/>
<rect x="12.3" y="14.9" width="1.9" height="1.4" rx="0.7" fill="#fff"/><rect x="15.2" y="14.9" width="1.9" height="1.4" rx="0.7" fill="#fff"/><rect x="18.1" y="14.9" width="1.9" height="1.4" rx="0.7" fill="#fff"/>
<path d="M10.7 19 H58.8" stroke="#4F9FE0" stroke-width="0.9"/>
<path d="M11.5 29.4 H13.6 L14.4 26.4 L15 31.8 L15.8 29.4 H19.4 L20.2 28 L20.9 23.2 L21.6 30.6 L22.4 29.4 H44 L45 28.6 L46.2 30.2 L47.5 23 L48.2 33 L49 29.4 H53.4 L54.2 30.8 L55 25.2 L55.8 31.6 L56.6 29.4 H58.4" stroke="#6DB1E8" stroke-width="0.6"/>
<path d="M31.2 4.1 L33.3 9.1 L37.1 5.1 L38.9 10 Q40.4 11.4 41.4 12.8 L43.9 15 Q46.8 15 49.5 15.6 Q49.7 17.2 48.5 18.1 Q47 20 45.1 20.9 L41.4 21.8 Q39 22.6 38.3 24.3 L38.6 30.5 Q39.6 44 38.4 56.5 Q40.6 57 41.7 58.1 Q42.4 59.6 41.2 59.6 L36.4 59.3 H9.5 Q5 57.5 4.3 50 Q4.3 45 9.8 41.3 Q8 44.6 8.2 48.8 L10.7 45.4 L25.6 26.8 L26 21.6 Q24 18.5 24.7 16.8 Z" fill="#fff" stroke="#1d1d1d" stroke-width="0.85"/>
<path d="M31.2 4.1 L24.7 16.8 Q26.4 20.4 30.2 22.4 Q32 22.2 32.4 20.6 Q33.2 16.4 32.8 12.4" stroke="#1d1d1d" stroke-width="0.8" fill="#fff"/>
<path d="M33.3 9.1 Q35.6 9.6 38.9 10" stroke="#1d1d1d" stroke-width="0.5"/>
<ellipse cx="37.7" cy="14.7" rx="1.0" ry="1.25" fill="#1d1d1d" transform="rotate(15 37.7 14.7)"/>
<path d="M41.2 21 Q42.2 21.8 43.4 21.6" stroke="#1d1d1d" stroke-width="0.6"/>
<path d="M25.9 25.6 Q30.6 29.6 38.4 29.4" stroke="#0073CF" stroke-width="2.0" stroke-linecap="butt"/>
<path d="M25.7 24.7 Q30.6 28.7 38.4 28.3 M26 27 Q30.6 30.8 38.5 30.5" stroke="#1d1d1d" stroke-width="0.45"/>
<rect x="39.4" y="24.3" width="1.5" height="3.9" rx="0.7" fill="#3D93DA"/>
<path d="M26.6 28.2 Q28.6 35.2 33.4 36.5 Q38.4 36 39.4 32.6 Q40.2 29.6 40.2 27.4" stroke="#1d1d1d" stroke-width="0.9"/>
<path d="M33.5 36.6 Q33.6 44 37.4 47.4 Q41 50 46 49 Q51.6 47.4 54.4 40.6" stroke="#1d1d1d" stroke-width="1.0"/>
<circle cx="54.5" cy="37.4" r="2.9" fill="#fff" stroke="#C9C9C9" stroke-width="1.1"/>
<circle cx="54.5" cy="37.4" r="3.55" stroke="#E8EEF5" stroke-width="0.4"/>
<path d="M10.7 45.4 Q9.3 50 9.6 55.9" stroke="#1d1d1d" stroke-width="0.8"/>
<path d="M9.8 41.3 Q5.8 46 6.4 51 Q7 55.4 9.8 57.4 M8.6 43.6 Q7 47.6 7.6 51.2" stroke="#1d1d1d" stroke-width="0.55"/>
<path d="M17.8 43.2 Q23.6 42.6 25.2 47.6 Q26 52.6 22.8 55.2 Q21.2 56.4 19.4 56.8" stroke="#1d1d1d" stroke-width="0.7"/>
<path d="M24 57.1 Q27 56.6 30.2 58.1 M23 55.6 Q26 54 28.2 51.4 M25.4 56.2 L28.4 53.4" stroke="#1d1d1d" stroke-width="0.55"/>
<path d="M27.2 46.4 Q28.6 52 30.2 58.4 L29.6 59.3" stroke="#1d1d1d" stroke-width="0.7"/>
<path d="M32.4 44.7 Q32.6 51 32 56.6 Q33.6 57.4 36.4 59.1" stroke="#1d1d1d" stroke-width="0.75"/>
<path d="M33.2 47 L33.4 52.4 L34.8 52 Z" fill="#0073CF" stroke="#0073CF" stroke-width="0.6"/>
<path d="M34 46 Q35.4 52 36 59" stroke="#1d1d1d" stroke-width="0.7"/>
</svg>
<span class="t" style="top:29px;font-size:25.5px;color:#0073CF;font-weight:700;letter-spacing:-0.165px;left:79.08px;-webkit-text-stroke:0.5px #0073CF;transform:scaleX(1.1);transform-origin:0 0;">FetchCare</span>
<span class="t" style="top:57px;font-size:12.5px;color:#0073CF;letter-spacing:0.116px;left:79.14px;">Solutions</span>
<span class="t" style="top:146px;font-size:20px;color:#111;letter-spacing:0.496px;left:79.68px;">Operational</span>
<span class="t" style="top:218px;font-size:20px;color:#111;letter-spacing:0.539px;left:78.78px;">Finance</span>
<span class="t" style="top:290px;font-size:20px;color:#0073CF;letter-spacing:0.433px;left:79.64px;">Client Portal</span>
<span class="t" style="top:362px;font-size:20px;color:#111;letter-spacing:0.627px;left:79.42px;">Scheduling</span>
<span class="t" style="top:434px;font-size:20px;color:#111;letter-spacing:0.873px;left:78.78px;">Marketing</span>
<span class="t" style="top:614px;font-size:20px;color:#111;letter-spacing:0.743px;left:79.22px;">Settings</span>
<span class="t" style="top:515px;font-size:19.5px;color:#0073CF;font-weight:700;letter-spacing:0.249px;left:105.44px;">FetchAI</span>
<span class="t" style="top:34px;font-size:33.5px;color:#111;font-weight:700;letter-spacing:-1.272px;left:299.81px;">Client Management</span>
<span class="t" style="top:39px;font-size:14px;color:#111;letter-spacing:0.276px;left:942.27px;-webkit-text-stroke:0.3px #111;">Vet Name</span>
<span class="t" style="top:39px;font-size:14px;color:#111;letter-spacing:0.313px;left:1187.82px;-webkit-text-stroke:0.3px #111;">Last 30 Days</span>
<span class="t" style="top:140px;font-size:14px;color:#D5E8F8;letter-spacing:0.175px;left:315.39px;">Client Retention</span>
<span class="t" style="top:181px;font-size:20px;color:#fff;font-weight:700;letter-spacing:-0.357px;left:316.14px;">47.5%</span>
<span class="t" style="top:185px;font-size:12px;color:#6CBF8E;letter-spacing:0.019px;left:462.88px;">2.7%</span>
<span class="t" style="top:130px;font-size:14px;color:#222;letter-spacing:0.302px;left:538.25px;">New Client</span>
<span class="t" style="top:151px;font-size:14px;color:#222;letter-spacing:0.302px;left:539.18px;">Acquisition</span>
<span class="t" style="top:181px;font-size:20px;color:#0B1437;font-weight:700;letter-spacing:0.436px;left:538.47px;">24.6%</span>
<span class="t" style="top:185px;font-size:12px;color:#1A8A4C;letter-spacing:0.019px;left:685.73px;">2.7%</span>
<span class="t" style="top:130px;font-size:14px;color:#222;letter-spacing:0.249px;left:761.39px;">Client Satisfaction</span>
<span class="t" style="top:151px;font-size:14px;color:#222;letter-spacing:0.470px;left:761.26px;">Score</span>
<span class="t" style="top:181px;font-size:20px;color:#0B1437;font-weight:700;letter-spacing:1.286px;left:762.14px;">4.8</span>
<span class="t" style="top:185px;font-size:12px;color:#1A8A4C;letter-spacing:0.019px;left:908.73px;">2.7%</span>
<span class="t" style="top:140px;font-size:14px;color:#222;letter-spacing:0.211px;left:985.18px;">Active Clients</span>
<span class="t" style="top:181px;font-size:20px;color:#0B1437;font-weight:700;letter-spacing:0.879px;left:984.17px;">123</span>
<span class="t" style="top:185px;font-size:12px;color:#1A8A4C;letter-spacing:0.019px;left:1056.48px;">2.7%</span>
<span class="t" style="top:261px;font-size:24px;color:#222;font-weight:700;letter-spacing:-0.252px;left:315.77px;">Client Retention</span>
<span class="t" style="top:261px;font-size:24px;color:#222;font-weight:700;letter-spacing:-0.197px;left:799.99px;">Retention Trends</span>
<span class="t" style="top:308px;font-size:12.5px;color:#666;letter-spacing:0.839px;left:316.22px;">800</span>
<span class="t" style="top:363px;font-size:12.5px;color:#666;letter-spacing:0.765px;left:316.36px;">600</span>
<span class="t" style="top:418px;font-size:12.5px;color:#666;letter-spacing:0.570px;left:316.75px;">400</span>
<span class="t" style="top:473px;font-size:12.5px;color:#666;letter-spacing:0.755px;left:316.38px;">200</span>
<span class="t" style="top:528px;font-size:12.5px;color:#666;left:331.89px;">0</span>
<span class="t" style="top:553px;font-size:12.5px;color:#777;letter-spacing:-0.086px;left:349.60px;">Jan</span>
<span class="t" style="top:553px;font-size:12.5px;color:#777;letter-spacing:0.128px;left:385.34px;">Feb</span>
<span class="t" style="top:553px;font-size:12.5px;color:#777;letter-spacing:0.189px;left:422.54px;">Mar</span>
<span class="t" style="top:553px;font-size:12.5px;color:#777;letter-spacing:0.024px;left:461.37px;">Apr</span>
<span class="t" style="top:553px;font-size:12.5px;color:#777;letter-spacing:0.036px;left:496.44px;">May</span>
<span class="t" style="top:553px;font-size:12.5px;color:#777;letter-spacing:0.164px;left:537.60px;">Jun</span>
<span class="t" style="top:553px;font-size:12.5px;color:#777;left:574.67px;">Aug</span>
<span class="t" style="top:553px;font-size:12.5px;color:#777;letter-spacing:0.041px;left:612.54px;">Sep</span>
<span class="t" style="top:553px;font-size:12.5px;color:#777;letter-spacing:0.332px;left:650.25px;">Oct</span>
<span class="t" style="top:553px;font-size:12.5px;color:#777;letter-spacing:0.178px;left:686.74px;">Nov</span>
<span class="t" style="top:553px;font-size:12.5px;color:#777;letter-spacing:0.174px;left:725.84px;">Dec</span>
<span class="t" style="top:587px;font-size:14.5px;color:#222;letter-spacing:0.146px;left:331.28px;-webkit-text-stroke:0.3px #222;">New Clients</span>
<span class="t" style="top:587px;font-size:14.5px;color:#222;letter-spacing:-0.026px;left:441.18px;-webkit-text-stroke:0.3px #222;">Previous Clients</span>
<span class="t" style="top:308px;font-size:12.5px;color:#666;letter-spacing:0.605px;left:801.78px;">200</span>
<span class="t" style="top:372px;font-size:12.5px;color:#666;letter-spacing:0.056px;left:802.88px;">150</span>
<span class="t" style="top:436px;font-size:12.5px;color:#666;letter-spacing:0.056px;left:802.88px;">100</span>
<span class="t" style="top:500px;font-size:12.5px;color:#666;letter-spacing:1.220px;left:808.77px;">50</span>
<span class="t" style="top:564px;font-size:12.5px;color:#666;left:816.99px;">0</span>
<span class="t" style="top:589px;font-size:12.5px;color:#777;left:840.78px;">1st Visit</span>
<span class="t" style="top:589px;font-size:12.5px;color:#777;letter-spacing:0.090px;left:913.63px;">2nd Visit</span>
<span class="t" style="top:589px;font-size:12.5px;color:#777;letter-spacing:0.236px;left:989.10px;">3rd Visit</span>
<span class="t" style="top:589px;font-size:12.5px;color:#777;letter-spacing:0.343px;left:1072.34px;">Loyal</span>
<span class="t" style="top:133px;font-size:24px;color:#222;font-weight:700;letter-spacing:-0.142px;left:1168.79px;">Filters</span>
<span class="t" style="top:190px;font-size:10.5px;color:#8A8A8A;letter-spacing:0.067px;left:1169.70px;">Clinic Branch</span>
<span class="t" style="top:217px;font-size:16px;color:#222;letter-spacing:0.161px;left:1196.31px;">All Branches</span>
<span class="t" style="top:251px;font-size:16px;color:#222;letter-spacing:0.476px;left:1195.24px;">Newtown Clinic</span>
<span class="t" style="top:285px;font-size:16px;color:#222;letter-spacing:0.495px;left:1195.30px;">Uptown Clinic</span>
<span class="t" style="top:319px;font-size:16px;color:#222;letter-spacing:0.384px;left:1195.53px;">Oldtown Clinic</span>
<span class="t" style="top:353px;font-size:16px;color:#222;letter-spacing:0.470px;left:1195.24px;">Downtown Clinic</span>
<span class="t" style="top:388px;font-size:10.5px;color:#555;letter-spacing:0.165px;left:1169.50px;">Client Status</span>
<span class="t" style="top:419px;font-size:10.2px;color:#fff;font-weight:700;letter-spacing:0.013px;left:1199.95px;">Active</span>
<span class="t" style="top:419px;font-size:10.2px;color:#fff;font-weight:700;letter-spacing:0.518px;left:1276.37px;">New</span>
<span class="t" style="top:451px;font-size:10.2px;color:#0073CF;font-weight:700;letter-spacing:0.065px;left:1199.95px;">At-risk</span>
<span class="t" style="top:488px;font-size:10.5px;color:#8A8A8A;letter-spacing:0.036px;left:1169.05px;">Feedback Score</span>
<span class="t" style="top:587px;font-size:16px;color:#F04438;letter-spacing:0.210px;left:1168.74px;">Reset All Filters</span>
<span class="t" style="top:659px;font-size:24px;color:#222;font-weight:700;letter-spacing:-0.315px;left:315.47px;">Clients History</span>
<span class="t" style="top:715px;font-size:14px;color:#8E8E8E;letter-spacing:0.272px;left:323.14px;">Client</span>
<span class="t" style="top:715px;font-size:14px;color:#8E8E8E;letter-spacing:0.186px;left:443.25px;">Pet Name</span>
<span class="t" style="top:715px;font-size:14px;color:#8E8E8E;letter-spacing:0.208px;left:557.93px;">Vet Name</span>
<span class="t" style="top:715px;font-size:14px;color:#8E8E8E;letter-spacing:0.286px;left:677.18px;">Amount</span>
<span class="t" style="top:715px;font-size:14px;color:#8E8E8E;letter-spacing:0.628px;left:789.25px;">Date</span>
<span class="t" style="top:715px;font-size:14px;color:#8E8E8E;letter-spacing:0.125px;left:908.39px;">Clinic Name</span>
<span class="t" style="top:715px;font-size:14px;color:#8E8E8E;letter-spacing:0.315px;left:1058.39px;">Client Type</span>
<span class="t" style="top:715px;font-size:14px;color:#8E8E8E;letter-spacing:0.267px;left:1174.00px;">Rating</span>
<span class="t" style="top:715px;font-size:14px;color:#8E8E8E;letter-spacing:0.298px;left:1275.18px;">Actions</span>
<span class="t" style="top:764px;font-size:14px;color:#222;font-weight:700;letter-spacing:0.090px;left:330.17px;">Samuel</span>
<span class="t" style="top:764px;font-size:14px;color:#222;font-weight:700;letter-spacing:-0.255px;left:444.49px;">Oliver</span>
<span class="t" style="top:764px;font-size:14px;color:#222;font-weight:700;letter-spacing:-0.191px;left:556.41px;">Dr. Lee</span>
<span class="t" style="top:764px;font-size:14px;color:#222;font-weight:700;letter-spacing:0.880px;left:681.09px;">$3375.00</span>
<span class="t" style="top:764px;font-size:14px;color:#222;font-weight:700;letter-spacing:0.032px;left:793.04px;">Jun 14, 2025</span>
<span class="t" style="top:764px;font-size:14px;color:#222;font-weight:700;letter-spacing:-0.068px;left:911.41px;">Newtown Clinic</span>
<span class="t" style="top:765px;font-size:12px;color:#198754;font-weight:700;left:1084.19px;">New</span>
<span class="t" style="top:764px;font-size:14px;color:#222;left:1202.34px;-webkit-text-stroke:0.3px #222;">1.2</span>
<span class="t" style="top:765px;font-size:12px;color:#fff;font-weight:700;left:1290.69px;">View</span>
<span class="t" style="top:823px;font-size:14px;color:#222;font-weight:700;letter-spacing:0.090px;left:330.17px;">Samuel</span>
<span class="t" style="top:823px;font-size:14px;color:#222;font-weight:700;letter-spacing:0.499px;left:444.41px;">Max</span>
<span class="t" style="top:823px;font-size:14px;color:#222;font-weight:700;letter-spacing:-0.207px;left:556.41px;">Dr. Smith</span>
<span class="t" style="top:823px;font-size:14px;color:#222;font-weight:700;letter-spacing:1.023px;left:681.09px;">$3362.00</span>
<span class="t" style="top:823px;font-size:14px;color:#222;font-weight:700;letter-spacing:0.032px;left:793.04px;">Jun 14, 2025</span>
<span class="t" style="top:823px;font-size:14px;color:#222;font-weight:700;letter-spacing:-0.150px;left:911.45px;">Uptown Clinic</span>
<span class="t" style="top:824px;font-size:12px;color:#0073CF;font-weight:700;left:1078.98px;">Active</span>
<span class="t" style="top:823px;font-size:14px;color:#222;left:1202.34px;-webkit-text-stroke:0.3px #222;">1.2</span>
<span class="t" style="top:824px;font-size:12px;color:#fff;font-weight:700;left:1290.69px;">View</span>
<span class="t" style="top:882px;font-size:14px;color:#222;font-weight:700;letter-spacing:0.090px;left:330.17px;">Samuel</span>
<span class="t" style="top:882px;font-size:14px;color:#222;font-weight:700;letter-spacing:0.104px;left:444.41px;">Kai</span>
<span class="t" style="top:882px;font-size:14px;color:#222;font-weight:700;letter-spacing:-0.230px;left:556.41px;">Dr. Johnson</span>
<span class="t" style="top:882px;font-size:14px;color:#222;font-weight:700;letter-spacing:0.809px;left:681.09px;">$3100.00</span>
<span class="t" style="top:882px;font-size:14px;color:#222;font-weight:700;letter-spacing:0.032px;left:793.04px;">Jun 14, 2025</span>
<span class="t" style="top:882px;font-size:14px;color:#222;font-weight:700;letter-spacing:-0.150px;left:911.45px;">Uptown Clinic</span>
<span class="t" style="top:883px;font-size:12px;color:#0073CF;font-weight:700;left:1078.98px;">Active</span>
<span class="t" style="top:882px;font-size:14px;color:#222;left:1202.34px;-webkit-text-stroke:0.3px #222;">1.5</span>
<span class="t" style="top:883px;font-size:12px;color:#fff;font-weight:700;left:1290.69px;">View</span>
<span class="t" style="top:941px;font-size:14px;color:#222;font-weight:700;letter-spacing:0.090px;left:330.17px;">Samuel</span>
<span class="t" style="top:941px;font-size:14px;color:#222;font-weight:700;letter-spacing:0.427px;left:444.41px;">Makai</span>
<span class="t" style="top:941px;font-size:14px;color:#222;font-weight:700;letter-spacing:-0.191px;left:556.41px;">Dr. Lee</span>
<span class="t" style="top:941px;font-size:14px;color:#222;font-weight:700;letter-spacing:0.880px;left:681.09px;">$3075.00</span>
<span class="t" style="top:941px;font-size:14px;color:#222;font-weight:700;letter-spacing:0.032px;left:793.04px;">Jun 14, 2025</span>
<span class="t" style="top:941px;font-size:14px;color:#222;font-weight:700;letter-spacing:-0.188px;left:911.49px;">Oldtown Clinic</span>
<span class="t" style="top:942px;font-size:12px;color:#0073CF;font-weight:700;left:1078.98px;">Active</span>
<span class="t" style="top:941px;font-size:14px;color:#222;left:1202.94px;-webkit-text-stroke:0.3px #222;">2.0</span>
<span class="t" style="top:942px;font-size:12px;color:#fff;font-weight:700;left:1290.69px;">View</span>
<span class="t" style="top:1000px;font-size:14px;color:#222;font-weight:700;letter-spacing:0.090px;left:330.17px;">Samuel</span>
<span class="t" style="top:1000px;font-size:14px;color:#222;font-weight:700;letter-spacing:-0.178px;left:444.41px;">Larry</span>
<span class="t" style="top:1000px;font-size:14px;color:#222;font-weight:700;letter-spacing:-0.230px;left:556.41px;">Dr. Johnson</span>
<span class="t" style="top:1000px;font-size:14px;color:#222;font-weight:700;letter-spacing:1.095px;left:681.09px;">$3020.00</span>
<span class="t" style="top:1000px;font-size:14px;color:#222;font-weight:700;letter-spacing:0.032px;left:793.04px;">Jun 14, 2025</span>
<span class="t" style="top:1000px;font-size:14px;color:#222;font-weight:700;letter-spacing:-0.093px;left:911.41px;">Downtown Clinic</span>
<span class="t" style="top:1001px;font-size:12px;color:#198754;font-weight:700;left:1084.19px;">New</span>
<span class="t" style="top:1000px;font-size:14px;color:#222;left:1202.94px;-webkit-text-stroke:0.3px #222;">2.5</span>
<span class="t" style="top:1001px;font-size:12px;color:#fff;font-weight:700;left:1290.69px;">View</span>
<span class="t" style="top:1059px;font-size:14px;color:#222;font-weight:700;letter-spacing:0.090px;left:330.17px;">Samuel</span>
<span class="t" style="top:1059px;font-size:14px;color:#222;font-weight:700;letter-spacing:-0.105px;left:445.04px;">Jack</span>
<span class="t" style="top:1059px;font-size:14px;color:#222;font-weight:700;letter-spacing:-0.155px;left:556.41px;">Dr. Samuel</span>
<span class="t" style="top:1059px;font-size:14px;color:#222;font-weight:700;letter-spacing:1.023px;left:681.09px;">$2905.00</span>
<span class="t" style="top:1059px;font-size:14px;color:#222;font-weight:700;letter-spacing:0.032px;left:793.04px;">Jun 14, 2025</span>
<span class="t" style="top:1059px;font-size:14px;color:#222;font-weight:700;letter-spacing:-0.068px;left:911.41px;">Newtown Clinic</span>
<span class="t" style="top:1060px;font-size:12px;color:#0073CF;font-weight:700;left:1078.98px;">Active</span>
<span class="t" style="top:1059px;font-size:14px;color:#222;left:1202.95px;-webkit-text-stroke:0.3px #222;">3.0</span>
<span class="t" style="top:1060px;font-size:12px;color:#fff;font-weight:700;left:1290.69px;">View</span>
</div></body></html>
